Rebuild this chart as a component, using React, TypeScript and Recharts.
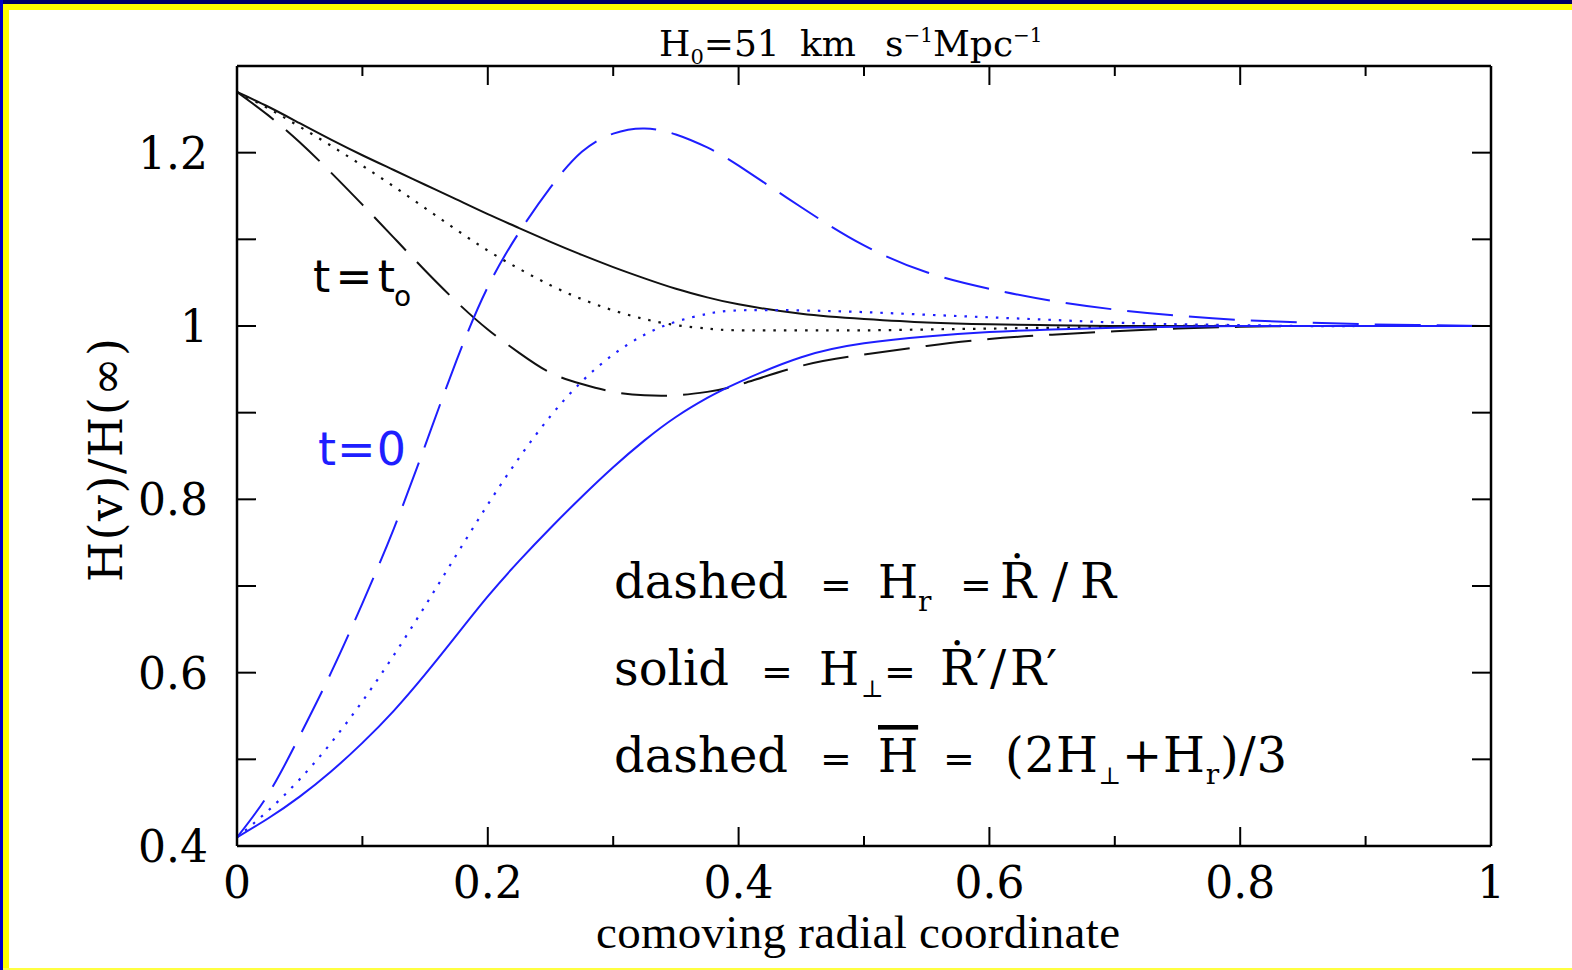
import React from 'react';
import { LineChart, Line, XAxis, YAxis } from 'recharts';

// comoving radial coordinate
const xs = [0, 0.025, 0.05, 0.075, 0.1, 0.125, 0.15, 0.175, 0.2, 0.225, 0.25, 0.275, 0.3, 0.325, 0.35, 0.375, 0.4, 0.45, 0.5, 0.55, 0.6, 0.65, 0.7, 0.75, 0.8, 0.85, 0.9, 0.95, 1.0];

// t = t0 (black)
const blackSolid = [1.270, 1.253, 1.234, 1.215, 1.197, 1.180, 1.163, 1.146, 1.129, 1.113, 1.097, 1.082, 1.068, 1.055, 1.043, 1.033, 1.025, 1.014, 1.008, 1.004, 1.002, 1.001, 1.000, 1.000, 1.000, 1.000, 1.000, 1.000, 1.000];
const blackDotted = [1.270, 1.251, 1.230, 1.208, 1.185, 1.161, 1.136, 1.111, 1.087, 1.066, 1.047, 1.031, 1.018, 1.008, 1.001, 0.997, 0.995, 0.995, 0.995, 0.996, 0.997, 0.998, 0.999, 1.000, 1.000, 1.000, 1.000, 1.000, 1.000];
const blackDashed = [1.270, 1.243, 1.212, 1.177, 1.140, 1.102, 1.064, 1.028, 0.996, 0.969, 0.946, 0.933, 0.924, 0.920, 0.920, 0.924, 0.932, 0.954, 0.967, 0.977, 0.985, 0.990, 0.994, 0.997, 0.999, 1.000, 1.000, 1.000, 1.000];

// t = 0 (blue)
const blueSolid = [0.410, 0.432, 0.457, 0.486, 0.519, 0.556, 0.598, 0.643, 0.688, 0.729, 0.767, 0.803, 0.837, 0.868, 0.895, 0.917, 0.935, 0.964, 0.980, 0.988, 0.993, 0.996, 0.998, 0.999, 1.000, 1.000, 1.000, 1.000, 1.000];
const blueDotted = [0.410, 0.441, 0.477, 0.519, 0.567, 0.620, 0.677, 0.736, 0.794, 0.848, 0.896, 0.936, 0.967, 0.990, 1.005, 1.014, 1.018, 1.018, 1.016, 1.013, 1.010, 1.007, 1.004, 1.002, 1.001, 1.000, 1.000, 1.000, 1.000];
const blueDashed = [0.410, 0.460, 0.527, 0.600, 0.680, 0.766, 0.862, 0.960, 1.045, 1.108, 1.160, 1.201, 1.222, 1.228, 1.221, 1.206, 1.185, 1.137, 1.093, 1.062, 1.043, 1.029, 1.019, 1.012, 1.007, 1.004, 1.002, 1.001, 1.000];

const xTicks = [0, 0.1, 0.2, 0.3, 0.4, 0.5, 0.6, 0.7, 0.8, 0.9, 1];
const yTicks = [0.4, 0.5, 0.6, 0.7, 0.8, 0.9, 1.0, 1.1, 1.2];
const xLabels: Record<string, string> = { '0': '0', '0.2': '0.2', '0.4': '0.4', '0.6': '0.6', '0.8': '0.8', '1': '1' };
const yLabels: Record<string, string> = { '0.4': '0.4', '0.6': '0.6', '0.8': '0.8', '1': '1', '1.2': '1.2' };

const data = xs.map((x, i) => ({
  x,
  bs: blackSolid[i],
  bd: blackDotted[i],
  bda: blackDashed[i],
  us: blueSolid[i],
  ud: blueDotted[i],
  uda: blueDashed[i],
}));

const BLUE = '#1e1eff';
const SERIF = "'DejaVu Serif', serif";
const SANS = "'DejaVu Sans', sans-serif";
const TIMES = "'Liberation Serif', 'Times New Roman', serif";

const keyOf = (v: number) => String(Math.round(v * 10) / 10);

const BottomTick = (props: any) => {
  const { x, y, payload } = props;
  const k = keyOf(payload.value);
  const major = Math.round(payload.value * 10) % 2 === 0;
  return (
    <g>
      <line x1={x} x2={x} y1={y} y2={y - (major ? 19 : 10)} stroke="#000" strokeWidth={2} />
      {xLabels[k] !== undefined && (
        <text x={x} y={y + 52} textAnchor="middle" fontFamily={SERIF} fontSize={44} fill="#000">
          {xLabels[k]}
        </text>
      )}
    </g>
  );
};

const TopTick = (props: any) => {
  const { x, y, payload } = props;
  const major = Math.round(payload.value * 10) % 2 === 0;
  return <line x1={x} x2={x} y1={y} y2={y + (major ? 19 : 10)} stroke="#000" strokeWidth={2} />;
};

const LeftTick = (props: any) => {
  const { x, y, payload } = props;
  const k = keyOf(payload.value);
  return (
    <g>
      <line x1={x} x2={x + 19} y1={y} y2={y} stroke="#000" strokeWidth={2} />
      {yLabels[k] !== undefined && (
        <text x={x - 29} y={y + 16} textAnchor="end" fontFamily={SERIF} fontSize={44} fill="#000">
          {yLabels[k]}
        </text>
      )}
    </g>
  );
};

const RightTick = (props: any) => {
  const { x, y } = props;
  return <line x1={x} x2={x - 19} y1={y} y2={y} stroke="#000" strokeWidth={2} />;
};

const axisLine = { stroke: '#000', strokeWidth: 2.5 };

export default function App() {
  return (
    <div style={{ position: 'absolute', left: 0, top: 0, width: 1572, height: 970, background: '#fff', overflow: 'hidden' }}>
      {/* frame */}
      <div style={{ position: 'absolute', left: 0, top: 0, width: 1572, height: 4, background: '#000066' }} />
      <div style={{ position: 'absolute', left: 3, top: 4, width: 1569, height: 6, background: '#ffff00' }} />
      <div style={{ position: 'absolute', left: 0, top: 0, width: 3, height: 970, background: '#0000c8' }} />
      <div style={{ position: 'absolute', left: 3, top: 4, width: 6, height: 966, background: '#ffff00' }} />
      <div style={{ position: 'absolute', left: 3, top: 968, width: 1569, height: 2, background: '#ffff40' }} />

      <div style={{ position: 'absolute', left: 0, top: 0 }}>
        <LineChart width={1572} height={970} data={data} margin={{ top: 46, right: 61, bottom: 64, left: 137 }}>
          <XAxis
            xAxisId="b"
            dataKey="x"
            type="number"
            domain={[0, 1]}
            allowDataOverflow
            ticks={xTicks}
            interval={0}
            height={60}
            tickSize={0}
            tickMargin={0}
            tickLine={false}
            axisLine={axisLine}
            tick={BottomTick}
          />
          <XAxis
            xAxisId="t"
            dataKey="x"
            orientation="top"
            type="number"
            domain={[0, 1]}
            allowDataOverflow
            ticks={xTicks}
            interval={0}
            height={20}
            tickSize={0}
            tickMargin={0}
            tickLine={false}
            axisLine={axisLine}
            tick={TopTick}
          />
          <YAxis
            yAxisId="l"
            type="number"
            domain={[0.4, 1.3]}
            allowDataOverflow
            ticks={yTicks}
            interval={0}
            width={100}
            tickSize={0}
            tickMargin={0}
            tickLine={false}
            axisLine={axisLine}
            tick={LeftTick}
          />
          <YAxis
            yAxisId="r"
            dataKey="bs"
            orientation="right"
            type="number"
            domain={[0.4, 1.3]}
            allowDataOverflow
            ticks={yTicks}
            interval={0}
            width={20}
            tickSize={0}
            tickMargin={0}
            tickLine={false}
            axisLine={axisLine}
            tick={RightTick}
          />
          <Line xAxisId="b" yAxisId="l" dataKey="bs" type="natural" stroke="#111" strokeWidth={2} dot={false} isAnimationActive={false} />
          <Line xAxisId="b" yAxisId="l" dataKey="bd" type="natural" stroke="#111" strokeWidth={2.2} strokeDasharray="2.5 8" dot={false} isAnimationActive={false} />
          <Line xAxisId="b" yAxisId="l" dataKey="bda" type="natural" stroke="#111" strokeWidth={2} strokeDasharray="46 16" dot={false} isAnimationActive={false} />
          <Line xAxisId="b" yAxisId="l" dataKey="us" type="natural" stroke={BLUE} strokeWidth={2} dot={false} isAnimationActive={false} />
          <Line xAxisId="b" yAxisId="l" dataKey="ud" type="natural" stroke={BLUE} strokeWidth={2.2} strokeDasharray="2.5 8" dot={false} isAnimationActive={false} />
          <Line xAxisId="b" yAxisId="l" dataKey="uda" type="natural" stroke={BLUE} strokeWidth={2} strokeDasharray="46 16" dot={false} isAnimationActive={false} />
        </LineChart>
      </div>

      {/* annotations */}
      <svg width={1572} height={970} style={{ position: 'absolute', left: 0, top: 0, pointerEvents: 'none' }}>
        {/* title */}
        <g fontFamily={SERIF} fill="#000">
          <text x={659} y={56} fontSize={36}>
            H<tspan fontSize={21} dy={8}>0</tspan>
            <tspan dy={-8}>=51</tspan>
          </text>
          <text x={800} y={56} fontSize={36}>km</text>
          <text x={885} y={56} fontSize={36}>
            s<tspan fontSize={20} dy={-14}>−1</tspan>
            <tspan dy={14}>Mpc</tspan>
            <tspan fontSize={20} dy={-14}>−1</tspan>
          </text>
        </g>

        {/* y axis label */}
        <text
          x={122}
          y={460}
          transform="rotate(-90 122 460)"
          textAnchor="middle"
          fontFamily={SERIF}
          fontSize={46}
          fill="#000"
          textLength={244}
          lengthAdjust="spacing"
        >
          H(v)/H(∞)
        </text>

        {/* x axis label */}
        <text x={858} y={948} textAnchor="middle" fontFamily={TIMES} fontSize={47} fill="#000" textLength={524} lengthAdjust="spacing">
          comoving radial coordinate
        </text>

        {/* curve labels */}
        <text x={313} y={292} fontFamily={SANS} fontSize={44} fill="#000" textLength={82} lengthAdjust="spacing">
          t=t
        </text>
        <text x={394} y={306} fontFamily={SANS} fontSize={28} fill="#000">
          o
        </text>
        <text x={318} y={465} fontFamily={SANS} fontSize={46} fill={BLUE} textLength={88} lengthAdjust="spacing">
          t=0
        </text>

        {/* legend lines */}
        <g fontFamily={SERIF} fontSize={48} fill="#000">
          <text x={614} y={598}>dashed</text>
          <text x={820} y={598} fontSize={38}>=</text>
          <text x={878} y={598} fontSize={46}>H</text>
          <text x={918} y={611} fontSize={28}>r</text>
          <text x={960} y={598} fontSize={38}>=</text>
          <text x={1000} y={598}>Ṙ</text>
          <text x={1052} y={598}>/</text>
          <text x={1080} y={598}>R</text>

          <text x={614} y={685}>solid</text>
          <text x={761} y={685} fontSize={38}>=</text>
          <text x={819} y={685} fontSize={46}>H</text>
          <text x={861} y={697} fontSize={24}>⊥</text>
          <text x={884} y={685} fontSize={38}>=</text>
          <text x={940} y={685}>Ṙ′</text>
          <text x={990} y={685}>/</text>
          <text x={1010} y={685}>R′</text>

          <text x={614} y={772}>dashed</text>
          <text x={820} y={772} fontSize={38}>=</text>
          <text x={878} y={772} fontSize={46} style={{ textDecoration: 'overline' }}>H</text>
          <text x={943} y={772} fontSize={38}>=</text>
          <text x={1005} y={772} textLength={282} lengthAdjust="spacing">
            (2H<tspan fontSize={24} dy={12}>⊥</tspan>
            <tspan dy={-12}>+H</tspan>
            <tspan fontSize={28} dy={12}>r</tspan>
            <tspan dy={-12}>)/3</tspan>
          </text>
        </g>
      </svg>
    </div>
  );
}
